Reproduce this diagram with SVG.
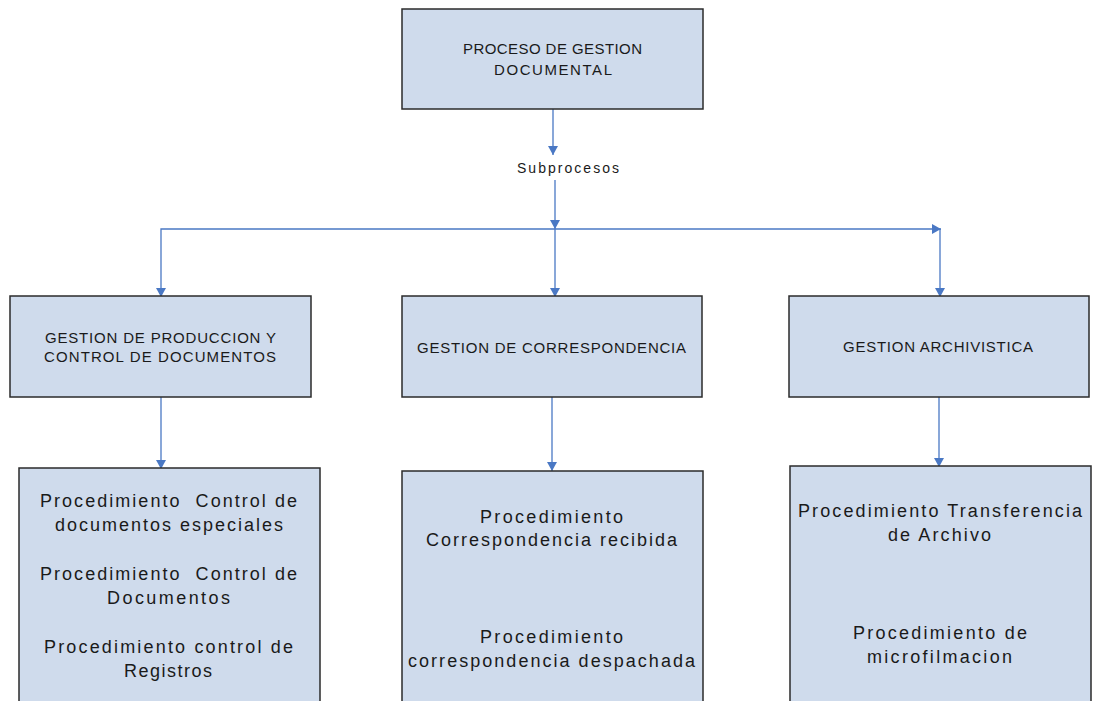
<svg xmlns="http://www.w3.org/2000/svg" width="1098" height="701" viewBox="0 0 1098 701">
<style>
.box{fill:#cfdbec;stroke:#2b2b2b;stroke-width:1.5}
.con{fill:none;stroke:#4a78c4;stroke-width:1.3}
.h{font-family:"Liberation Sans",Arial,sans-serif;font-size:15px;fill:#1a1a1a;text-anchor:middle}
.b{font-family:"Liberation Sans",Arial,sans-serif;font-size:18px;fill:#1a1a1a;text-anchor:middle}
.s{font-family:"Liberation Sans",Arial,sans-serif;font-size:14px;fill:#1a1a1a;text-anchor:middle}
</style>
<defs>
<marker id="arr" markerUnits="userSpaceOnUse" markerWidth="12" markerHeight="12" viewBox="0 0 12 12" refX="10" refY="6" orient="auto">
<path d="M1,1 L10,6 L1,11 Z" fill="#4a78c4"/>
</marker>
</defs>
<rect width="1098" height="701" fill="#ffffff"/>
<g id="connectors">
<line class="con" x1="553" y1="109" x2="553" y2="155" marker-end="url(#arr)"/>
<line class="con" x1="555" y1="180" x2="555" y2="229" marker-end="url(#arr)"/>
<line class="con" x1="555" y1="229" x2="555" y2="297" marker-end="url(#arr)"/>
<polyline class="con" points="555,229 161,229 161,297" marker-end="url(#arr)"/>
<line class="con" x1="555" y1="229" x2="941" y2="229" marker-end="url(#arr)"/>
<line class="con" x1="940" y1="229" x2="940" y2="297" marker-end="url(#arr)"/>
<line class="con" x1="161" y1="397" x2="161" y2="469" marker-end="url(#arr)"/>
<line class="con" x1="552" y1="397" x2="552" y2="471" marker-end="url(#arr)"/>
<line class="con" x1="939" y1="397" x2="939" y2="467" marker-end="url(#arr)"/>
</g>
<g id="label-subprocesos">
<text class="s" x="568" y="173" textLength="102" lengthAdjust="spacing">Subprocesos</text>
</g>
<g id="node-proceso">
<rect class="box" x="402" y="9" width="301" height="100"/>
<text class="h" x="552.5" y="54" textLength="179" lengthAdjust="spacing">PROCESO DE GESTION</text>
<text class="h" x="553" y="75" textLength="118" lengthAdjust="spacing">DOCUMENTAL</text>
</g>
<g id="node-produccion">
<rect class="box" x="10" y="296" width="301" height="101"/>
<text class="h" x="160.5" y="343" textLength="231" lengthAdjust="spacing">GESTION DE PRODUCCION Y</text>
<text class="h" x="160" y="362" textLength="232" lengthAdjust="spacing">CONTROL DE DOCUMENTOS</text>
</g>
<g id="node-correspondencia">
<rect class="box" x="402" y="296" width="300" height="101"/>
<text class="h" x="551.5" y="353" textLength="269" lengthAdjust="spacing">GESTION DE CORRESPONDENCIA</text>
</g>
<g id="node-archivistica">
<rect class="box" x="789" y="296" width="300" height="101"/>
<text class="h" x="938" y="352" textLength="190" lengthAdjust="spacing">GESTION ARCHIVISTICA</text>
</g>
<g id="node-proc-produccion">
<rect class="box" x="19" y="468" width="301" height="245"/>
<text class="b" x="168.5" y="507" textLength="257" lengthAdjust="spacing" xml:space="preserve">Procedimiento  Control de</text>
<text class="b" x="169" y="531" textLength="228" lengthAdjust="spacing">documentos especiales</text>
<text class="b" x="168.5" y="580" textLength="257" lengthAdjust="spacing" xml:space="preserve">Procedimiento  Control de</text>
<text class="b" x="168.5" y="604" textLength="123" lengthAdjust="spacing">Documentos</text>
<text class="b" x="168.5" y="653" textLength="249" lengthAdjust="spacing">Procedimiento control de</text>
<text class="b" x="168" y="677" textLength="88" lengthAdjust="spacing">Registros</text>
</g>
<g id="node-proc-correspondencia">
<rect class="box" x="402" y="471" width="301" height="242"/>
<text class="b" x="551.5" y="523" textLength="143" lengthAdjust="spacing">Procedimiento</text>
<text class="b" x="551.5" y="546" textLength="251" lengthAdjust="spacing">Correspondencia recibida</text>
<text class="b" x="551.5" y="643" textLength="143" lengthAdjust="spacing">Procedimiento</text>
<text class="b" x="551.5" y="667" textLength="287" lengthAdjust="spacing">correspondencia despachada</text>
</g>
<g id="node-proc-archivistica">
<rect class="box" x="790" y="466" width="301" height="247"/>
<text class="b" x="940" y="517" textLength="284" lengthAdjust="spacing">Procedimiento Transferencia</text>
<text class="b" x="939.5" y="541" textLength="103" lengthAdjust="spacing">de Archivo</text>
<text class="b" x="940" y="639" textLength="174" lengthAdjust="spacing">Procedimiento de</text>
<text class="b" x="939.5" y="663" textLength="145" lengthAdjust="spacing">microfilmacion</text>
</g>
</svg>
